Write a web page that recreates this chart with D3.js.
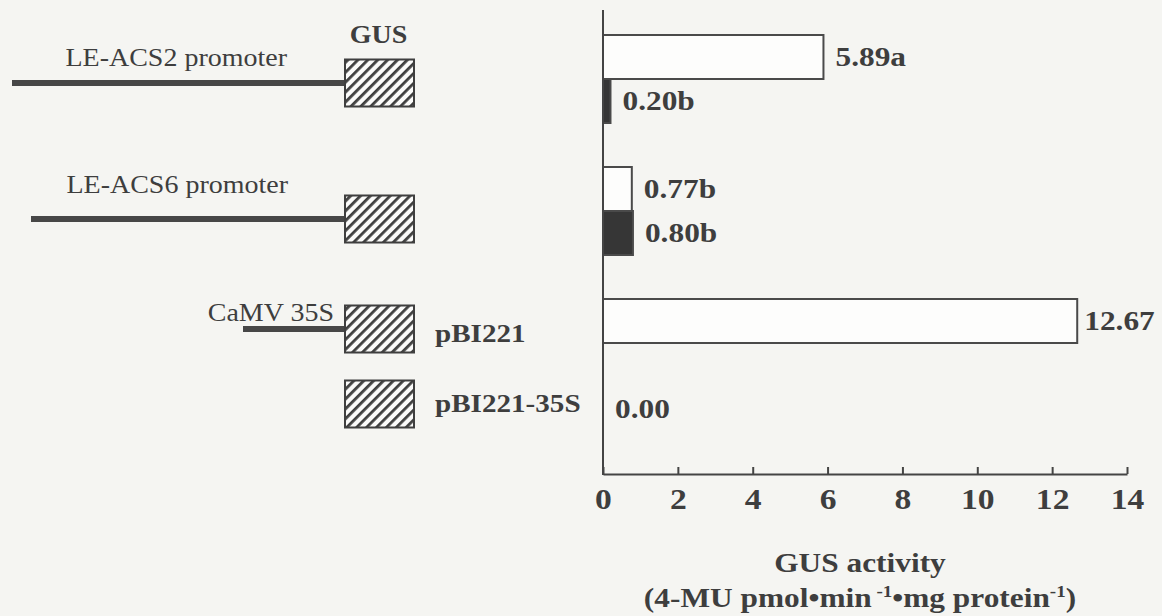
<!DOCTYPE html>
<html>
<head>
<meta charset="utf-8">
<script src="https://cdn.jsdelivr.net/npm/d3@7"></script>
<style>
  html, body { margin: 0; padding: 0; background: #f5f5f2; }
  svg { display: block; }
  text { font-family: "Liberation Serif", "Times New Roman", serif; fill: #3e3e3e; }
</style>
</head>
<body>
<svg id="chart" width="1162" height="616"></svg>
<script>
// ---- data ----
const constructs = ["LE-ACS2 promoter", "LE-ACS6 promoter", "pBI221", "pBI221-35S"];
const promoterLabels = ["LE-ACS2 promoter", "LE-ACS6 promoter", "CaMV 35S", ""];
const plasmidLabels = ["", "", "pBI221", "pBI221-35S"];

// one bar per row: construct index, fill kind, GUS activity, significance letter
const barConstruct = [0, 0, 1, 1, 2, 3];
const barKind = ["open", "filled", "open", "filled", "open", "open"];
const barValues = [5.89, 0.20, 0.77, 0.80, 12.67, 0.00];
const barLetters = ["a", "b", "b", "b", "", ""];

const xTicks = [0, 2, 4, 6, 8, 10, 12, 14];

// ---- layout ----
const W = 1162, H = 616;
const SX = 1.12;                 // horizontal text stretch
const axisX0 = 603, axisX1 = 1127, axisY = 474, axisTop = 10;
const rowTop = 35, rowBottom = 431;
// row slots (spacers between constructs)
const rowSlots = [0, 1, 3, 4, 6, 8];
const diagramShift = [4, 8, 8, -5];
const promoterStart = [12, 31, 243, null];
const promoterLabelPos = [{x: 287, dy: -17}, {x: 288, dy: -26}, {x: 334, dy: -8}, null];
const plasmidLabelDy = [0, 0, 13, 8];
const gusBox = {x0: 345, x1: 414, h: 47};

const svg = d3.select("#chart");
svg.append("rect").attr("width", W).attr("height", H).attr("fill", "#f5f5f2");

const x = d3.scaleLinear().domain([0, 14]).range([axisX0, axisX1]);
const y = d3.scaleBand().domain(d3.range(9)).range([rowTop, rowBottom]).paddingInner(0).paddingOuter(0);
const step = y.bandwidth();

function stretched(sel, px, py) {
  return sel.attr("transform", `translate(${px},${py}) scale(${SX},1)`);
}

// hatch pattern for the GUS reporter box
const defs = svg.append("defs");
const pat = defs.append("pattern")
  .attr("id", "hatch").attr("patternUnits", "userSpaceOnUse")
  .attr("width", 7).attr("height", 7)
  .attr("patternTransform", "rotate(45)");
pat.append("rect").attr("width", 7).attr("height", 7).attr("fill", "#fbfbfa");
pat.append("rect").attr("x", 0).attr("width", 2.8).attr("height", 7).attr("fill", "#3f3f3f");

// centre of each construct's bar group
const groupCenter = constructs.map((c, i) => {
  const rows = rowSlots.filter((r, k) => barConstruct[k] === i);
  const top = d3.min(rows, r => y(r));
  const bot = d3.max(rows, r => y(r) + step);
  return (top + bot) / 2;
});

// ---- construct diagrams ----
const diag = svg.append("g");
constructs.forEach((c, i) => {
  const cy = groupCenter[i] + diagramShift[i];
  if (promoterStart[i] !== null) {
    diag.append("line")
      .attr("x1", promoterStart[i]).attr("x2", gusBox.x0)
      .attr("y1", cy).attr("y2", cy)
      .attr("stroke", "#474747").attr("stroke-width", 6);
  }
  diag.append("rect")
    .attr("x", gusBox.x0).attr("y", cy - gusBox.h / 2)
    .attr("width", gusBox.x1 - gusBox.x0).attr("height", gusBox.h)
    .attr("fill", "url(#hatch)").attr("stroke", "#3f3f3f").attr("stroke-width", 2);
  if (promoterLabels[i]) {
    const p = promoterLabelPos[i];
    stretched(diag.append("text"), p.x, cy + p.dy)
      .attr("text-anchor", "end").attr("font-size", 25).attr("fill", "#454545")
      .text(promoterLabels[i]);
  }
  if (plasmidLabels[i]) {
    stretched(diag.append("text"), 435, cy + plasmidLabelDy[i])
      .attr("font-size", 26).attr("font-weight", "bold")
      .text(plasmidLabels[i]);
  }
});
stretched(diag.append("text"), (gusBox.x0 + gusBox.x1) / 2 - 1, 43)
  .attr("text-anchor", "middle").attr("font-size", 25).attr("font-weight", "bold")
  .text("GUS");

// ---- bars ----
const bars = barValues.map((v, k) => ({v, kind: barKind[k], letter: barLetters[k], row: rowSlots[k]}));
const barG = svg.append("g");
barG.selectAll("rect").data(bars.filter(d => d.v > 0)).join("rect")
  .attr("x", x(0))
  .attr("y", d => y(d.row))
  .attr("width", d => x(d.v) - x(0))
  .attr("height", step)
  .attr("fill", d => d.kind === "filled" ? "#363636" : "#fdfdfc")
  .attr("stroke", "#4a4a4a").attr("stroke-width", 2);

barG.selectAll("text").data(bars).join("text")
  .each(function(d) {
    stretched(d3.select(this), x(d.v) + (d.v > 10 ? 7 : 12), y(d.row) + step / 2 + 9);
  })
  .attr("font-size", 28).attr("font-weight", "bold")
  .text(d => d.v.toFixed(2) + d.letter);

// ---- axes ----
svg.append("line")
  .attr("x1", axisX0).attr("x2", axisX0)
  .attr("y1", axisTop).attr("y2", axisY + 1)
  .attr("stroke", "#444").attr("stroke-width", 2);

const xAxis = svg.append("g")
  .attr("transform", `translate(0,${axisY})`)
  .call(d3.axisBottom(x).tickValues(xTicks).tickFormat(d3.format("d"))
    .tickSize(-7).tickSizeOuter(0).tickPadding(14));
xAxis.select(".domain").attr("stroke", "#444").attr("stroke-width", 2);
xAxis.selectAll(".tick line").attr("stroke", "#444").attr("stroke-width", 2);
xAxis.selectAll(".tick text")
  .attr("font-family", "Liberation Serif, Times New Roman, serif")
  .attr("font-size", 30).attr("font-weight", "bold").attr("fill", "#3e3e3e")
  .attr("transform", `scale(${SX},1)`);

// ---- axis title ----
const tx = 860;
stretched(svg.append("text"), tx, 572)
  .attr("text-anchor", "middle").attr("font-size", 28).attr("font-weight", "bold")
  .text("GUS activity");
const t2 = stretched(svg.append("text"), tx, 607)
  .attr("text-anchor", "middle").attr("font-size", 28).attr("font-weight", "bold");
t2.append("tspan").text("(4-MU pmol•min");
t2.append("tspan").attr("font-size", 17).attr("dy", -10).text(" -1");
t2.append("tspan").attr("dy", 10).text("•mg protein");
t2.append("tspan").attr("font-size", 17).attr("dy", -10).text("-1");
t2.append("tspan").attr("dy", 10).text(")");
</script>
</body>
</html>
